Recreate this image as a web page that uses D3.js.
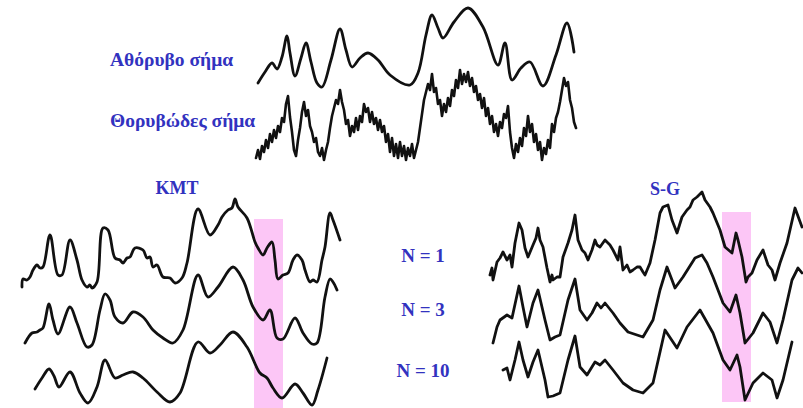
<!DOCTYPE html>
<html>
<head>
<meta charset="utf-8">
<script src="https://cdn.jsdelivr.net/npm/d3@7/dist/d3.min.js"></script>
<style>
    html, body { margin: 0; padding: 0; background: #fff; }
    svg { display: block; }
    .lbl { font-family: "Liberation Serif", "Times New Roman", serif;
           font-weight: bold; fill: #3232bf; }
</style>
</head>
<body>
<svg id="fig" width="803" height="408"></svg>
<script>
(function () {
    'use strict';

    // --- Data (time 0..320, amplitude 0..100) ---------------------------

    var clean = [
        [2, 7], [9, 18], [16, 27], [21, 21], [26, 33], [31, 54], [34, 37],
        [39, 14], [45, 32], [50, 47], [55, 28], [61, 7], [66, 3], [75, 30],
        [84, 61], [90, 40], [96, 23], [104, 32], [112, 37], [122, 30],
        [134, 15], [154, 5], [162, 17], [170, 55], [176, 75], [182, 62],
        [187, 52], [198, 68], [212, 82], [227, 63], [242, 25], [249, 47],
        [256, 10], [265, 22], [274, 28], [287, 4], [300, 35], [311, 67],
        [318, 38]
    ];

    // noisy signal sampled every 2 time units
    var noisy = [
        4, 12, 3, 16, 10, 22, 14, 28, 20, 32, 24, 36, 30, 44, 40, 58, 66, 45,
        30, 12, 6, 22, 34, 50, 60, 46, 52, 36, 30, 20, 24, 10, 6, 14, 2, 12,
        20, 34, 46, 54, 62, 58, 72, 60, 52, 38, 42, 26, 36, 30, 44, 32, 46,
        40, 58, 50, 54, 40, 50, 38, 44, 32, 42, 30, 36, 20, 28, 10, 24, 6,
        18, 4, 20, 6, 16, 2, 14, 6, 18, 4, 12, 20, 34, 48, 62, 70, 78, 72,
        88, 70, 74, 58, 62, 46, 58, 50, 64, 56, 72, 66, 82, 74, 92, 78, 88,
        80, 90, 76, 84, 70, 76, 62, 68, 54, 64, 46, 54, 38, 46, 30, 38, 26,
        40, 34, 48, 44, 56, 30, 14, 4, 18, 10, 24, 16, 34, 26, 46, 30, 38,
        20, 28, 12, 20, 2, 14, 8, 22, 14, 38, 30, 44, 50, 60, 72, 84, 76,
        80, 62, 54, 40, 34
    ];

    var kmt1 = [
        [2, 3], [3, 11], [7, 10], [10, 13], [13, 20], [17, 25], [20, 22],
        [23, 23], [30, 55], [38, 15], [42, 15], [50, 50], [57, 30], [62, 10],
        [67, 3], [70, 5], [72, 2], [77, 8], [83, 62], [88, 60], [95, 32],
        [100, 30], [103, 27], [107, 32], [110, 33], [115, 42], [123, 40],
        [127, 32], [130, 33], [133, 23], [137, 25], [143, 13], [150, 12],
        [155, 7], [162, 12], [167, 27], [178, 81], [190, 55], [198, 65],
        [202, 73], [208, 80], [212, 82], [215, 91], [218, 83], [227, 72],
        [235, 48], [238, 42], [243, 35], [247, 42], [252, 48], [255, 30],
        [258, 11], [263, 15], [268, 17], [273, 30], [277, 35], [282, 30],
        [285, 20], [290, 8], [293, 10], [297, 8], [302, 30], [305, 43],
        [310, 77], [313, 70], [320, 50]
    ];

    var kmt3 = [
        [5, 7], [12, 17], [17, 18], [20, 20], [23, 22], [29, 46], [33, 30],
        [38, 16], [50, 43], [57, 27], [67, 3], [72, 5], [80, 40], [85, 56],
        [90, 50], [95, 33], [103, 27], [113, 38], [123, 33], [133, 20],
        [143, 12], [153, 7], [163, 20], [178, 75], [188, 53], [198, 63],
        [213, 83], [223, 70], [233, 43], [243, 30], [250, 40], [257, 12],
        [263, 11], [275, 32], [283, 17], [292, 6], [297, 7], [305, 53],
        [310, 71], [313, 68], [317, 60]
    ];

    var kmt10 = [
        [15, 19], [22, 30], [29, 39], [34, 32], [39, 21], [50, 36], [60, 15],
        [68, 5], [77, 21], [85, 48], [95, 30], [103, 33], [113, 36],
        [123, 30], [137, 16], [150, 6], [160, 15], [178, 66], [190, 55],
        [200, 63], [213, 76], [227, 61], [240, 35], [247, 30], [253, 20],
        [262, 10], [275, 24], [283, 15], [292, 3], [298, 18], [307, 50]
    ];

    var sg1 = [
        [2, 15], [4, 22], [5, 10], [9, 28], [12, 32], [15, 38], [19, 30],
        [22, 35], [24, 23], [27, 47], [31, 67], [34, 60], [37, 42], [40, 33],
        [45, 45], [48, 52], [50, 62], [52, 50], [55, 43], [59, 22], [62, 8],
        [64, 15], [65, 10], [69, 13], [72, 13], [75, 33], [80, 47], [84, 60],
        [87, 75], [90, 50], [94, 40], [97, 37], [100, 30], [104, 40],
        [107, 50], [109, 45], [112, 43], [117, 50], [120, 47], [122, 45],
        [125, 40], [130, 30], [132, 43], [135, 20], [139, 25], [142, 18],
        [145, 20], [149, 23], [152, 23], [155, 18], [157, 15], [162, 27],
        [167, 50], [172, 77], [175, 83], [180, 85], [184, 70], [189, 57],
        [194, 73], [199, 80], [202, 83], [205, 90], [209, 93], [214, 98],
        [217, 90], [222, 83], [225, 77], [232, 60], [237, 43], [244, 37],
        [248, 57], [250, 50], [254, 33], [258, 8], [260, 13], [264, 17],
        [269, 30], [275, 40], [280, 25], [284, 20], [287, 10], [292, 27],
        [299, 47], [307, 82], [314, 63]
    ];

    var sg3 = [
        [5, 7], [9, 23], [12, 30], [19, 35], [24, 32], [31, 64], [35, 43],
        [39, 23], [45, 47], [50, 60], [57, 30], [62, 10], [67, 13], [72, 15],
        [80, 50], [87, 71], [92, 40], [99, 30], [104, 37], [109, 47],
        [113, 42], [117, 47], [125, 37], [132, 27], [140, 18], [149, 15],
        [155, 13], [165, 30], [172, 60], [179, 83], [184, 70], [187, 62],
        [195, 73], [207, 92], [214, 95], [219, 87], [225, 73], [235, 47],
        [242, 38], [248, 55], [252, 37], [257, 7], [265, 17], [275, 37],
        [282, 28], [289, 7], [295, 30], [304, 70], [310, 82], [314, 77]
    ];

    var sg10 = [
        [15, 38], [19, 40], [22, 28], [27, 48], [31, 66], [35, 48], [40, 31],
        [45, 46], [50, 58], [57, 28], [60, 11], [65, 12], [72, 15], [80, 48],
        [87, 72], [92, 41], [99, 33], [107, 46], [112, 43], [117, 48],
        [125, 38], [135, 25], [145, 18], [155, 15], [165, 25], [177, 78],
        [189, 60], [199, 81], [212, 98], [225, 75], [235, 48], [242, 38],
        [249, 53], [252, 41], [257, 8], [265, 25], [275, 35], [284, 28],
        [289, 10], [295, 28], [304, 66]
    ];

    // time window that is shaded in both lower panels
    var highlight = [234, 263];

    var filterLabels = ['N = 1', 'N = 3', 'N = 10'];

    // --- Layout -----------------------------------------------------------

    var svg = d3.select('#fig');

    var xTop = d3.scaleLinear().domain([0, 320]).range([256, 576]),
        xKmt = d3.scaleLinear().domain([0, 320]).range([20, 340]),
        xSg = d3.scaleLinear().domain([0, 320]).range([488, 808]);

    // one amplitude scale per row, 1px per unit
    function rowScale(base) {
        return d3.scaleLinear().domain([0, 100]).range([base, base - 100]);
    }

    var yClean = rowScale(90),
        yNoisy = rowScale(162),
        yRows = [rowScale(290), rowScale(350), rowScale(408)];

    // --- Shading ----------------------------------------------------------

    svg.append('rect')
        .attr('x', xKmt(highlight[0]))
        .attr('width', xKmt(highlight[1]) - xKmt(highlight[0]))
        .attr('y', 219).attr('height', 189)
        .attr('fill', '#fcc6f6');

    svg.append('rect')
        .attr('x', xSg(highlight[0]))
        .attr('width', xSg(highlight[1]) - xSg(highlight[0]))
        .attr('y', 212).attr('height', 190)
        .attr('fill', '#fcc6f6');

    // --- Traces -----------------------------------------------------------

    function trace(data, x, y, curve, width) {
        var line = d3.line()
            .x(function (d) { return x(d[0]); })
            .y(function (d) { return y(d[1]); })
            .curve(curve);
        svg.append('path')
            .datum(data)
            .attr('d', line)
            .attr('fill', 'none')
            .attr('stroke', '#111')
            .attr('stroke-width', width || 2.8)
            .attr('stroke-linejoin', 'round')
            .attr('stroke-linecap', 'round');
    }

    var smooth = d3.curveCatmullRom.alpha(0.5);

    trace(clean, xTop, yClean, smooth);
    trace(noisy.map(function (v, i) { return [i * 2, v]; }),
          xTop, yNoisy, d3.curveLinear, 2.6);

    trace(kmt1, xKmt, yRows[0], smooth);
    trace(kmt3, xKmt, yRows[1], smooth);
    trace(kmt10, xKmt, yRows[2], smooth);

    trace(sg1, xSg, yRows[0], d3.curveLinear);
    trace(sg3, xSg, yRows[1], d3.curveLinear);
    trace(sg10, xSg, yRows[2], d3.curveLinear);

    // --- Labels -----------------------------------------------------------

    function label(txt, x, y, size, anchor) {
        svg.append('text')
            .attr('class', 'lbl')
            .attr('x', x).attr('y', y)
            .attr('text-anchor', anchor || 'start')
            .style('font-size', size + 'px')
            .text(txt);
    }

    label('Αθόρυβο σήμα', 110, 66, 19.5);
    label('Θορυβώδες σήμα', 110, 127, 19.5);
    label('KMT', 177, 194, 18, 'middle');
    label('S-G', 665, 195, 18, 'middle');

    [262, 316, 377].forEach(function (y, i) {
        label(filterLabels[i], 423, y, 19, 'middle');
    });
}());
</script>
</body>
</html>
